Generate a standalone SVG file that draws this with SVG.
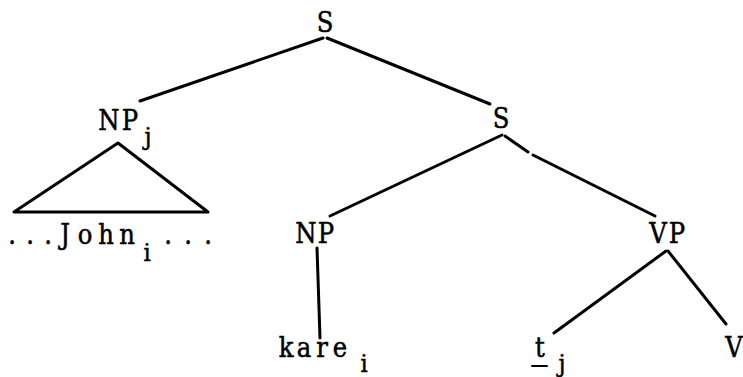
<svg xmlns="http://www.w3.org/2000/svg" width="743" height="377" viewBox="0 0 743 377">
<style>
text{font-family:"DejaVu Serif Condensed","DejaVu Serif","Liberation Serif",serif;font-stretch:condensed;font-size:27px;fill:#000;stroke:#000;stroke-width:0.5;text-anchor:middle}
.sub{font-size:25px}
line,polygon{stroke:#000;stroke-width:3;fill:none;stroke-linecap:round}
</style>
<rect width="743" height="377" fill="#fff"/>
<g id="connectors">
<line x1="323" y1="38" x2="140" y2="101"/>
<line x1="327" y1="38" x2="490" y2="104"/>
<line x1="502" y1="135" x2="330" y2="216"/>
<line x1="505" y1="136" x2="528" y2="152"/>
<line x1="533" y1="155" x2="655" y2="216"/>
<line x1="317" y1="248" x2="320" y2="338"/>
<line x1="666" y1="251" x2="554" y2="333"/>
<line x1="668" y1="251" x2="726" y2="324"/>
</g>
<g id="S-top"><text x="325" y="32">S</text></g>
<g id="NPj"><text x="109 130" y="130">NP</text><text class="sub" x="148" y="145">j</text></g>
<g id="triangle"><polygon points="118,143 14,212 208,212" stroke-linejoin="round"/></g>
<g id="John"><text x="12 30 48 65 85 106 127" y="244">...John</text><text class="sub" x="147" y="261">i</text><text x="168 188 208" y="244">...</text></g>
<g id="S-right"><text x="501" y="128">S</text></g>
<g id="NP"><text x="306 326" y="243">NP</text></g>
<g id="VP"><text x="658 677" y="243">VP</text></g>
<g id="kare"><text x="286 304 322 340" y="357">kare</text><text class="sub" x="364" y="372">i</text></g>
<g id="t"><text x="540" y="357">t</text><line x1="532" y1="366" x2="547" y2="366" style="stroke-width:2"/><text class="sub" x="562" y="372">j</text></g>
<g id="V"><text x="734" y="357">V</text></g>
</svg>
